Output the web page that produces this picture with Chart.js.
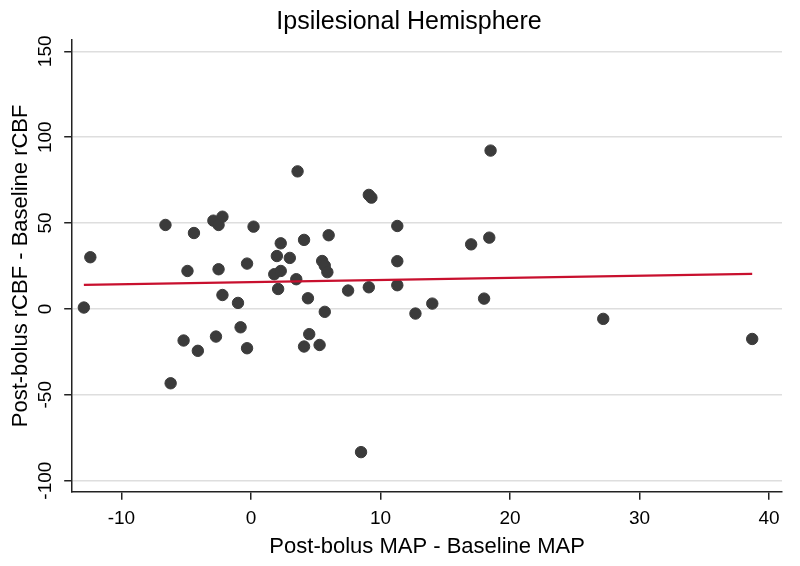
<!DOCTYPE html>
<html>
<head>
<meta charset="utf-8">
<script src="https://cdn.jsdelivr.net/npm/chart.js@4/dist/chart.umd.min.js"></script>
<style>
  html, body { margin: 0; padding: 0; background: #ffffff; }
  #wrap { width: 800px; height: 566px; position: relative; }
</style>
</head>
<body>
<div id="wrap"><canvas id="c" width="800" height="566"></canvas></div>
<script>
// Post-bolus MAP - Baseline MAP (x) and Post-bolus rCBF - Baseline rCBF (y)
const mapDiff = [
  -12.9, -12.4, -6.6, -4.4, -4.9, -2.9, -2.2, -2.5, -2.5, -2.2,
  -1.0, 0.2, -0.3, 3.6, 4.1, 2.3, 2.0, 3.0, 1.8, 2.3,
  3.5, 2.1, 4.4, 18.5, 9.1, 9.3, 11.3, 6.0, 17.0, 18.4,
  5.5, 5.7, 5.9, 11.3, 7.5, 9.1, 11.3, 5.7, 12.7, 14.0,
  18.0, 27.2, 38.7, -5.2, -4.1, -2.7, -0.8, -0.3, -6.2, 4.5,
  4.1, 5.3, 8.5
];
const rcbfDiff = [
  0.8, 30.1, 48.9, 44.2, 22.1, 51.4, 53.7, 48.9, 23.1, 8.1,
  3.5, 47.9, 26.4, 80.1, 40.2, 38.2, 30.8, 29.7, 20.2, 22.1,
  17.3, 11.6, 6.2, 92.2, 66.4, 64.8, 48.3, 42.9, 37.6, 41.5,
  27.9, 25.2, 21.4, 27.8, 10.7, 12.6, 13.8, -1.7, -2.7, 3.1,
  6.0, -5.8, -17.5, -18.4, -24.4, -16.1, -10.7, -22.9, -43.3, -14.7,
  -21.9, -21.0, -83.4
];
// Fitted line endpoints
const fitX = [-12.9, 38.7];
const fitY = [14.0, 20.4];
// Axis ticks
const xTicks = [-10, 0, 10, 20, 30, 40];
const yTicks = [-100, -50, 0, 50, 100, 150];

const FONT = "'Liberation Sans', Arial, Helvetica, sans-serif";

const points = mapDiff.map((x, i) => ({ x: x, y: rcbfDiff[i] }));
const fit = fitX.map((x, i) => ({ x: x, y: fitY[i] }));

new Chart(document.getElementById('c'), {
  type: 'scatter',
  data: {
    datasets: [
      {
        label: 'Observed',
        data: points,
        backgroundColor: '#3b3b3b',
        borderColor: '#3b3b3b',
        borderWidth: 1,
        pointRadius: 5.7,
        pointHoverRadius: 5.7,
        order: 2
      },
      {
        label: 'Fitted',
        type: 'line',
        data: fit,
        borderColor: '#c8102e',
        borderWidth: 2.2,
        pointRadius: 0,
        fill: false,
        tension: 0,
        order: 1
      }
    ]
  },
  options: {
    responsive: false,
    animation: false,
    devicePixelRatio: 1,
    layout: { padding: { left: 36, right: 18, top: 0, bottom: 6 } },
    plugins: {
      legend: { display: false },
      tooltip: { enabled: false },
      title: {
        display: true,
        text: 'Ipsilesional Hemisphere',
        color: '#000000',
        font: { family: FONT, size: 25, weight: 'normal' },
        padding: { top: 7, bottom: 3 }
      }
    },
    scales: {
      x: {
        type: 'linear',
        min: -13.8,
        max: 41,
        afterBuildTicks: (s) => { s.ticks = xTicks.map(v => ({ value: v })); },
        border: { display: true, color: '#222222', width: 1.5 },
        grid: { drawOnChartArea: false, drawTicks: true, tickLength: 8, tickColor: '#222222', lineWidth: 1.5 },
        ticks: {
          color: '#000000',
          font: { family: FONT, size: 19 },
          padding: 8,
          maxRotation: 0,
          autoSkip: false
        },
        title: {
          display: true,
          text: 'Post-bolus MAP - Baseline MAP',
          color: '#000000',
          font: { family: FONT, size: 22 },
          padding: { top: -5, bottom: 0 }
        }
      },
      y: {
        type: 'linear',
        min: -106.5,
        max: 156.6,
        afterBuildTicks: (s) => { s.ticks = yTicks.map(v => ({ value: v })); },
        border: { display: true, color: '#222222', width: 1.5 },
        grid: { drawOnChartArea: true, color: '#dedede', lineWidth: 1.5, drawTicks: true, tickLength: 8, tickColor: '#222222' },
        ticks: {
          color: '#000000',
          font: { family: FONT, size: 19 },
          minRotation: 90,
          maxRotation: 90,
          crossAlign: 'center',
          padding: -1,
          autoSkip: false
        },
        title: {
          display: true,
          text: 'Post-bolus rCBF - Baseline rCBF',
          color: '#000000',
          font: { family: FONT, size: 22 },
          padding: { top: -28, bottom: 9 }
        }
      }
    }
  }
});
</script>
</body>
</html>
